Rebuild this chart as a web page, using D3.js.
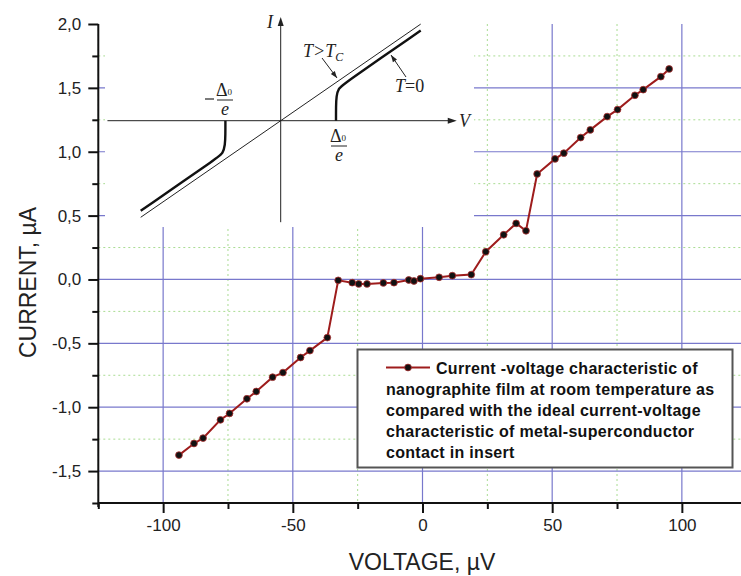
<!DOCTYPE html>
<html>
<head>
<meta charset="utf-8">
<script src="https://cdn.jsdelivr.net/npm/d3@7"></script>
<style>
  body { margin: 0; background: #fff; }
  svg { display: block; }
  text { font-family: "Liberation Sans", Arial, sans-serif; }
  .serif { font-family: "Liberation Serif", "Times New Roman", serif; }
</style>
</head>
<body>
<div id="chart"></div>
<script>
// measured I-V points of the nanographite film
const voltage = [-93.9, -88.1, -84.6, -77.9, -74.4, -67.7, -64.1, -57.8, -53.8, -47.0, -43.4, -36.7,
  -32.5, -27.1, -24.6, -21.4, -15.1, -11.0, -5.3, -3.3, -0.8, 6.4, 11.5, 18.8,
  24.4, 31.3, 36.1, 39.9, 44.2, 51.1, 54.5, 61.0, 64.7, 71.2, 75.2, 81.9, 85.1, 91.9, 95.1];
const current = [-1.375, -1.284, -1.242, -1.099, -1.049, -0.934, -0.877, -0.765, -0.729, -0.611, -0.557, -0.455,
  -0.007, -0.025, -0.035, -0.035, -0.027, -0.025, -0.004, -0.012, 0.006, 0.017, 0.030, 0.038,
  0.217, 0.350, 0.439, 0.381, 0.826, 0.944, 0.989, 1.111, 1.171, 1.275, 1.330, 1.442, 1.486, 1.588, 1.648];

const xTicks = [-100, -50, 0, 50, 100];
const xMinorTicks = [-125, -75, -25, 25, 75, 125];
const yTicks = [-1.5, -1.0, -0.5, 0.0, 0.5, 1.0, 1.5, 2.0];
const yMinorTicks = [-1.75, -1.25, -0.75, -0.25, 0.25, 0.75, 1.25, 1.75];

const legendLines = [
  'Current -voltage characteristic of',
  'nanographite film at room temperature as',
  'compared with the ideal current-voltage',
  'characteristic of metal-superconductor',
  'contact in insert'
];

// insert sketch: ideal I-V curves (arbitrary units)
const normalLine = [[-0.80, -0.552], [0.80, 0.552]];
const superRight = [[0.316, 0], [0.316, 0.08], [0.318, 0.14], [0.33, 0.185], [0.36, 0.211], [0.80, 0.515]];
const superLeft = superRight.map(([v, i]) => [-v, -i]).reverse();

const width = 741;
const height = 576;

const data = voltage.map((v, i) => ({ v, c: current[i] }));

const svg = d3.select('#chart').append('svg')
  .attr('width', width)
  .attr('height', height);

const x = d3.scaleLinear().domain([-125, 125]).range([98.3, 746.7]);
const y = d3.scaleLinear().domain([-1.75, 2.0]).range([503, 24]);

const fmt = (d) => d.toFixed(1).replace('.', ',');

// gridlines
const grid = svg.append('g');
grid.selectAll('.gxm').data(xMinorTicks).join('line')
  .attr('x1', d => x(d)).attr('x2', d => x(d))
  .attr('y1', y(2.0)).attr('y2', y(-1.75))
  .attr('stroke', '#a9dc92').attr('stroke-dasharray', '2,3');
grid.selectAll('.gym').data(yMinorTicks).join('line')
  .attr('x1', x(-125)).attr('x2', width)
  .attr('y1', d => y(d)).attr('y2', d => y(d))
  .attr('stroke', '#a9dc92').attr('stroke-dasharray', '2,3');
grid.selectAll('.gx').data(xTicks).join('line')
  .attr('x1', d => x(d)).attr('x2', d => x(d))
  .attr('y1', y(2.0)).attr('y2', y(-1.75))
  .attr('stroke', '#7878cc').attr('stroke-width', 1.2);
grid.selectAll('.gy').data(yTicks.filter(d => d < 2)).join('line')
  .attr('x1', x(-125)).attr('x2', width)
  .attr('y1', d => y(d)).attr('y2', d => y(d))
  .attr('stroke', '#7878cc').attr('stroke-width', 1.2);

// axes
const xAxis = d3.axisBottom(x).tickValues(xTicks).tickSize(10).tickPadding(6).tickFormat(d => String(d));
const xAxisMinor = d3.axisBottom(x).tickValues(xMinorTicks).tickSize(6).tickFormat('');
const yAxis = d3.axisLeft(y).tickValues(yTicks).tickSize(10).tickPadding(7).tickFormat(fmt);
const yAxisMinor = d3.axisLeft(y).tickValues(yMinorTicks).tickSize(6).tickFormat('');

function styleAxis(g) {
  g.select('.domain').remove();
  g.selectAll('line').attr('stroke', '#111').attr('stroke-width', 2);
  g.selectAll('text').attr('fill', '#222').style('font-size', '17px')
    .style('font-family', '"Liberation Sans", Arial, sans-serif');
}

svg.append('g').attr('transform', `translate(0,${y(-1.75)})`).call(xAxisMinor).call(styleAxis);
svg.append('g').attr('transform', `translate(0,${y(-1.75)})`).call(xAxis).call(styleAxis);
svg.append('g').attr('transform', `translate(${x(-125)},0)`).call(yAxisMinor).call(styleAxis);
svg.append('g').attr('transform', `translate(${x(-125)},0)`).call(yAxis).call(styleAxis);

svg.append('line')
  .attr('x1', x(-125)).attr('x2', width)
  .attr('y1', y(-1.75)).attr('y2', y(-1.75))
  .attr('stroke', '#111').attr('stroke-width', 2);
svg.append('line')
  .attr('x1', x(-125)).attr('x2', x(-125))
  .attr('y1', y(2.0)).attr('y2', y(-1.75) + 4)
  .attr('stroke', '#111').attr('stroke-width', 2);

svg.append('text')
  .attr('x', 422).attr('y', 570)
  .attr('text-anchor', 'middle')
  .style('font-size', '23px').attr('fill', '#222')
  .text('VOLTAGE, µV');
svg.append('text')
  .attr('transform', `translate(36,${y(0.0) + 3}) rotate(-90)`)
  .attr('text-anchor', 'middle')
  .style('font-size', '23px').attr('fill', '#222')
  .text('CURRENT, µA');

// data series
const line = d3.line().x(d => x(d.v)).y(d => y(d.c));
svg.append('path')
  .datum(data)
  .attr('d', line)
  .attr('fill', 'none')
  .attr('stroke', '#9e1c1c')
  .attr('stroke-width', 2);
svg.append('g').selectAll('circle').data(data).join('circle')
  .attr('cx', d => x(d.v)).attr('cy', d => y(d.c))
  .attr('r', 3.4)
  .attr('fill', '#111')
  .attr('stroke', '#b03030')
  .attr('stroke-width', 0.8);

// insert
const inset = svg.append('g');
inset.append('rect')
  .attr('x', 105).attr('y', 0).attr('width', 369).attr('height', 227)
  .attr('fill', '#fff');

const ix = d3.scaleLinear().domain([-1, 1]).range([280.7 - 175, 280.7 + 175]);
const iy = d3.scaleLinear().domain([-1, 1]).range([120.7 + 175, 120.7 - 175]);

// axes of the insert
inset.append('line')
  .attr('x1', ix(-0.99)).attr('x2', ix(0.99)).attr('y1', iy(0)).attr('y2', iy(0))
  .attr('stroke', '#222').attr('stroke-width', 1);
inset.append('line')
  .attr('x1', ix(0)).attr('x2', ix(0)).attr('y1', iy(-0.58)).attr('y2', iy(0.57))
  .attr('stroke', '#222').attr('stroke-width', 1);
inset.append('path')
  .attr('d', `M${ix(1.006)},${iy(0)} l-9,-3 l0,6 z`)
  .attr('fill', '#222');
inset.append('path')
  .attr('d', `M${ix(0)},${iy(0.593)} l-3,9 l6,0 z`)
  .attr('fill', '#222');

const iline = d3.line().x(d => ix(d[0])).y(d => iy(d[1]));
inset.append('path')
  .attr('d', iline(normalLine))
  .attr('fill', 'none').attr('stroke', '#222').attr('stroke-width', 1);
const curve = d3.line().x(d => ix(d[0])).y(d => iy(d[1])).curve(d3.curveBasis);
[superLeft, superRight].forEach(pts => {
  inset.append('path')
    .attr('d', curve(pts))
    .attr('fill', 'none').attr('stroke', '#111').attr('stroke-width', 2.4);
});

// labels of the insert
const italic = (sel) => sel.attr('class', 'serif').style('font-style', 'italic').attr('fill', '#222');
inset.append('text').call(italic).attr('x', 270).attr('y', 28)
  .attr('text-anchor', 'middle').style('font-size', '18px').text('I');
inset.append('text').call(italic).attr('x', 459).attr('y', 127)
  .style('font-size', '18px').text('V');

const tc = inset.append('text').call(italic).attr('x', 303).attr('y', 57).style('font-size', '18px');
tc.append('tspan').text('T>T');
tc.append('tspan').attr('dy', 4).style('font-size', '12px').text('C');
const t0 = inset.append('text').call(italic).attr('x', 395).attr('y', 92).style('font-size', '18px');
t0.append('tspan').text('T');
t0.append('tspan').style('font-style', 'normal').text('=0');

// pointer arrows
function pointer(x1, y1, x2, y2) {
  inset.append('line')
    .attr('x1', x1).attr('y1', y1).attr('x2', x2).attr('y2', y2)
    .attr('stroke', '#222').attr('stroke-width', 1);
  const a = Math.atan2(y2 - y1, x2 - x1) * 180 / Math.PI;
  inset.append('path')
    .attr('d', 'M0,0 L-7,-2.5 L-7,2.5 Z')
    .attr('transform', `translate(${x2},${y2}) rotate(${a})`)
    .attr('fill', '#222');
}
pointer(322, 58, 337, 78);
pointer(406, 77, 391, 55);

// Δ0/e fractions
function fraction(cx, barY, minus) {
  const g = inset.append('g');
  if (minus) {
    g.append('line').attr('x1', cx - 20).attr('x2', cx - 11)
      .attr('y1', barY - 1).attr('y2', barY - 1).attr('stroke', '#222').attr('stroke-width', 1.2);
  }
  const t = g.append('text').attr('class', 'serif').attr('x', cx - 1).attr('y', barY - 4)
    .attr('text-anchor', 'middle').style('font-size', '18px').attr('fill', '#222');
  t.append('tspan').text('Δ');
  t.append('tspan').attr('dy', -1).style('font-size', '9px').text('0');
  g.append('line').attr('x1', cx - 8).attr('x2', cx + 8)
    .attr('y1', barY).attr('y2', barY).attr('stroke', '#222').attr('stroke-width', 1);
  g.append('text').call(italic).attr('x', cx).attr('y', barY + 15)
    .attr('text-anchor', 'middle').style('font-size', '18px').text('e');
}
fraction(225, 100, true);
fraction(339, 146, false);

// legend
const legend = svg.append('g');
legend.append('rect')
  .attr('x', 357.5).attr('y', 349.5).attr('width', 375).attr('height', 118)
  .attr('fill', '#fff').attr('stroke', '#555').attr('stroke-width', 2);
legend.append('line')
  .attr('x1', 386).attr('x2', 430).attr('y1', 367.5).attr('y2', 367.5)
  .attr('stroke', '#9e1c1c').attr('stroke-width', 2);
legend.append('circle')
  .attr('cx', 408).attr('cy', 367.5).attr('r', 3.4)
  .attr('fill', '#111').attr('stroke', '#b03030').attr('stroke-width', 0.8);
legend.selectAll('.lt').data(legendLines).join('text')
  .attr('x', (d, i) => i === 0 ? 436 : 386)
  .attr('y', (d, i) => 373.5 + i * 21.2)
  .style('font-size', '16px').style('font-weight', 'bold')
  .style('letter-spacing', '0.3px')
  .attr('fill', '#111')
  .text(d => d);
</script>
</body>
</html>
